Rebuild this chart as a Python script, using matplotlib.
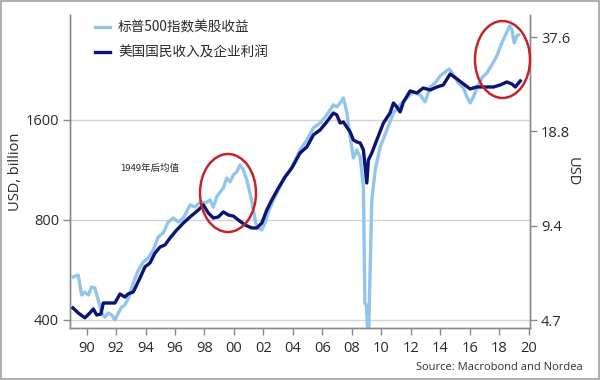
import matplotlib
matplotlib.use("Agg")
import matplotlib.pyplot as plt
from matplotlib.patches import Ellipse, Rectangle
from matplotlib.lines import Line2D
import matplotlib.transforms as mtransforms
from matplotlib.ticker import FixedLocator, FixedFormatter, NullLocator

# ---------------- data ----------------
# US national income & corporate profits (left axis, USD billion)
profit_years = [1989.07, 1989.43, 1989.88, 1990.22, 1990.45, 1990.68, 1990.97, 1991.13,
                1991.58, 1991.92, 1992.26, 1992.60, 1992.81, 1993.17, 1993.62, 1993.96,
                1994.30, 1994.64, 1994.98, 1995.32, 1995.66, 1996.11, 1996.56, 1997.02,
                1997.58, 1997.92, 1998.26, 1998.60, 1998.94, 1999.28, 1999.62, 1999.96,
                2000.30, 2000.75, 2001.21, 2001.55, 2001.89, 2002.23, 2002.57, 2003.02,
                2003.47, 2003.93, 2004.49, 2004.95, 2005.39, 2005.85, 2006.30, 2006.75,
                2006.98, 2007.21, 2007.43, 2007.66, 2007.89, 2008.11, 2008.34, 2008.57,
                2008.79, 2009.02, 2009.13, 2009.36, 2009.70, 2010.15, 2010.60, 2010.83,
                2011.06, 2011.28, 2011.51, 2011.96, 2012.42, 2012.85, 2013.32, 2013.78,
                2014.21, 2014.68, 2015.14, 2015.58, 2016.04, 2016.49, 2016.94, 2017.62,
                2018.08, 2018.53, 2018.87, 2019.10, 2019.44]
profit_values = [435, 420, 406, 420, 432, 414, 417, 450,
                 450, 450, 479, 469, 479, 486, 535, 578,
                 594, 636, 663, 673, 706, 746, 783, 817,
                 857, 888, 840, 811, 817, 846, 828, 822,
                 800, 773, 757, 757, 783, 857, 919, 999,
                 1078, 1147, 1273, 1327, 1442, 1493, 1578, 1680,
                 1657, 1567, 1578, 1524, 1472, 1393, 1374, 1364,
                 1300, 1034, 1213, 1273, 1393, 1567, 1680, 1800,
                 1751, 1691, 1813, 1956, 1929, 1997, 1970, 2011,
                 2039, 2201, 2126, 2054, 1984, 2011, 2011, 2011,
                 2039, 2082, 2054, 2011, 2097]

# S&P 500 earnings per share (right axis, USD)
eps_years = [1989.09, 1989.43, 1989.66, 1989.88, 1990.11, 1990.34, 1990.56, 1990.79,
             1991.02, 1991.24, 1991.47, 1991.70, 1991.92, 1992.15, 1992.38, 1992.60,
             1992.83, 1993.17, 1993.51, 1993.85, 1994.18, 1994.52, 1994.86, 1995.20,
             1995.54, 1995.88, 1996.22, 1996.56, 1996.79, 1997.02, 1997.36, 1997.70,
             1998.04, 1998.38, 1998.60, 1998.83, 1999.06, 1999.28, 1999.51, 1999.74,
             1999.96, 2000.19, 2000.41, 2000.64, 2000.87, 2001.09, 2001.32, 2001.48,
             2001.66, 2001.89, 2002.11, 2002.34, 2002.68, 2003.02, 2003.47, 2003.93,
             2004.49, 2004.95, 2005.39, 2005.85, 2006.30, 2006.75, 2006.98, 2007.21,
             2007.43, 2007.66, 2007.89, 2008.11, 2008.34, 2008.57, 2008.79, 2008.89,
             2008.99, 2009.13, 2009.23, 2009.36, 2009.59, 2009.93, 2010.38, 2010.83,
             2011.28, 2011.74, 2012.19, 2012.64, 2012.98, 2013.32, 2013.66, 2014.00,
             2014.34, 2014.61, 2014.91, 2015.24, 2015.58, 2015.82, 2016.04, 2016.26,
             2016.49, 2016.83, 2017.17, 2017.51, 2017.85, 2018.19, 2018.53, 2018.72,
             2018.87, 2019.03, 2019.21, 2019.32]
eps_values = [6.45, 6.54, 5.65, 5.77, 5.65, 5.99, 5.95, 5.44,
              4.95, 4.80, 4.95, 4.88, 4.70, 4.95, 5.17, 5.25,
              5.52, 6.17, 6.79, 7.20, 7.41, 7.86, 8.65, 8.91,
              9.66, 9.95, 9.66, 9.95, 10.40, 10.95, 10.78, 11.19,
              11.11, 11.36, 10.78, 11.61, 12.04, 12.40, 13.35, 12.96,
              13.65, 13.95, 14.69, 14.16, 13.15, 11.95, 10.55, 9.59,
              9.24, 9.11, 9.59, 10.40, 11.36, 12.22, 13.45, 14.47,
              16.40, 17.65, 19.28, 20.00, 21.21, 22.83, 22.49, 23.17,
              24.03, 21.68, 18.04, 15.46, 16.40, 15.52, 12.49, 5.33,
              5.25, 3.91, 6.31, 11.36, 14.16, 16.77, 18.99, 21.52,
              22.83, 24.03, 25.12, 24.57, 23.34, 26.06, 26.83, 28.25,
              29.09, 29.74, 28.46, 26.83, 25.86, 24.21, 23.17, 24.21,
              25.86, 27.83, 28.88, 30.62, 32.73, 36.00, 39.04, 40.80,
              39.60, 36.00, 37.90, 38.20]

left_ticks = [400, 800, 1600]
left_labels = ["400", "800", "1600"]
right_ticks = [4.7, 9.4, 18.8, 37.6]
right_labels = ["4.7", "9.4", "18.8", "37.6"]
x_ticks = list(range(1990, 2021, 2))
x_labels = ["90", "92", "94", "96", "98", "00", "02", "04", "06", "08",
            "10", "12", "14", "16", "18", "20"]

legend_labels = ["标普500指数美股收益", "美国国民收入及企业利润"]
ylabel_left = "USD, billion"
ylabel_right = "USD"
note_text = "1949年后均值"
source_text = "Source: Macrobond and Nordea"

# ---------------- style ----------------
LIGHT = "#93c5ec"
DARK = "#0b1475"
GRID = "#d4d4d4"
SPINE = "#8a8a8a"
TXT = "#2a2a2a"
CJK = ["Noto Sans CJK SC", "DejaVu Sans"]
LAT = ["Open Sans", "DejaVu Sans"]

fig = plt.figure(figsize=(6.0, 3.8), dpi=100)
fig.patch.set_facecolor("white")

L, R, B, T = 70 / 600, 530 / 600, 1 - 328 / 380, 1 - 15 / 380
ax = fig.add_axes([L, B, R - L, T - B])
ax2 = ax.twinx()

# light series on right axis, drawn below dark
ax.set_zorder(ax2.get_zorder() + 1)
ax.patch.set_visible(False)

ax.set_yscale("log")
ax2.set_yscale("log")
ax.set_ylim(378.4, 3312)
ax2.set_ylim(4.434, 44.2)
ax.set_xlim(1988.87, 2020.1)

# gridlines (left axis positions) drawn on the lower axes
blend = mtransforms.blended_transform_factory(ax2.transAxes, ax.transData)
for v in left_ticks:
    ax2.add_line(Line2D([0, 1], [v, v], transform=blend, color=GRID, lw=1.0, zorder=0.5))

ax2.plot(eps_years, eps_values, color=LIGHT, lw=2.4, solid_joinstyle="round", zorder=2)
ax.plot(profit_years, profit_values, color=DARK, lw=2.4, solid_joinstyle="round", zorder=3)

# ticks
for a in (ax, ax2):
    a.yaxis.set_minor_locator(NullLocator())
ax.yaxis.set_major_locator(FixedLocator(left_ticks))
ax.yaxis.set_major_formatter(FixedFormatter(left_labels))
ax2.yaxis.set_major_locator(FixedLocator(right_ticks))
ax2.yaxis.set_major_formatter(FixedFormatter(right_labels))
ax.set_xticks(x_ticks)
ax.set_xticklabels(x_labels)

ax.tick_params(axis="y", which="major", length=5, width=1, color=SPINE, labelsize=10.5,
               labelcolor=TXT, pad=3)
ax2.tick_params(axis="y", which="major", length=5, width=1, color=SPINE, labelsize=10.5,
                labelcolor=TXT, pad=3)
ax.tick_params(axis="x", which="major", length=5, width=1, color=SPINE, labelsize=10.5,
               labelcolor=TXT, pad=4)
for lab in ax.get_xticklabels() + ax.get_yticklabels() + ax2.get_yticklabels():
    lab.set_family(LAT)

for a in (ax, ax2):
    a.spines["top"].set_visible(False)
    for s in ("left", "right", "bottom"):
        a.spines[s].set_color(SPINE)
        a.spines[s].set_linewidth(1.0)

ax.set_ylabel(ylabel_left, family=LAT, fontsize=10.5, color=TXT)
ax.yaxis.set_label_coords(-0.103, 0.5)
ax2.set_ylabel(ylabel_right, family=LAT, fontsize=10.5, color=TXT, rotation=270)
ax2.yaxis.set_label_coords(1.108, 0.5)

# legend
h1 = Line2D([], [], color=LIGHT, lw=2.4)
h2 = Line2D([], [], color=DARK, lw=2.4)
leg = ax.legend([h1, h2], legend_labels, loc="upper left",
                bbox_to_anchor=((95 - 70) / 460, (328 - 20.5) / 313),
                frameon=False, borderpad=0, borderaxespad=0, handlelength=1.1,
                handletextpad=0.6, labelspacing=0.8,
                prop={"family": CJK, "size": 9.8})
for t in leg.get_texts():
    t.set_color(TXT)

# annotation
ax.text((120 - 70) / 460, (328 - 168) / 313, note_text, transform=ax.transAxes,
        fontsize=6.8, family=CJK, color=TXT, va="center", ha="left")

# red ellipses
for cx, cy, w, h in [(228, 193, 56, 78), (502.5, 59.5, 55, 77)]:
    e = Ellipse(((cx - 70) / 460, (328 - cy) / 313), w / 460, h / 313,
                transform=ax.transAxes, fill=False, edgecolor="#c4252b", lw=1.8,
                zorder=10, clip_on=False)
    ax.add_patch(e)

# source
fig.text(583 / 600, 1 - 367 / 380, source_text, ha="right", va="center",
         fontsize=8, family=LAT, color="#333333")

# frame
fig.patches.append(Rectangle((0.001, 0.002), 0.997, 0.995, transform=fig.transFigure,
                             fill=False, edgecolor="#a0a0a0", lw=1.2))

fig.savefig("out.png", dpi=100)
